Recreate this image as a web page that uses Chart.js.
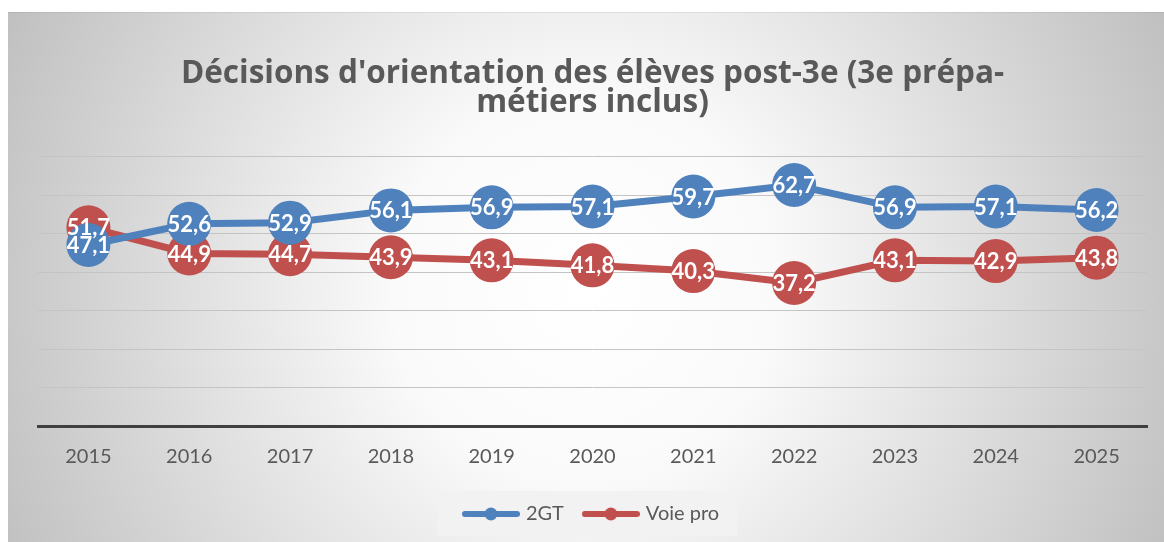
<!DOCTYPE html>
<html><head><meta charset="utf-8">
<script src="https://cdn.jsdelivr.net/npm/chart.js@4/dist/chart.umd.min.js"></script>
<style>html,body{margin:0;padding:0;background:#fff;}#wrap{width:1164px;height:542px;}</style>
</head><body><div id="wrap"><canvas id="c" width="1164" height="542"></canvas></div>
<script>
const years = ['2015','2016','2017','2018','2019','2020','2021','2022','2023','2024','2025'];
const seriesNames = ['2GT','Voie pro'];
const values2GT = [47.1,52.6,52.9,56.1,56.9,57.1,59.7,62.7,56.9,57.1,56.2];
const valuesPro = [51.7,44.9,44.7,43.9,43.1,41.8,40.3,37.2,43.1,42.9,43.8];
const titleLines = ["Décisions d'orientation des élèves post-3e (3e prépa-", "métiers inclus)"];
const BLUE = '#4f81bd', RED = '#c0504d';
const FONT = 'Lato, "Open Sans", sans-serif';
const TFONT = '"Open Sans", Lato, sans-serif';

function legendIcon(color){
  const c = document.createElement('canvas'); c.width = 58; c.height = 14;
  const x = c.getContext('2d');
  x.strokeStyle = color; x.lineWidth = 6; x.lineCap = 'round';
  x.beginPath(); x.moveTo(3,7); x.lineTo(55,7); x.stroke();
  x.fillStyle = color; x.beginPath(); x.arc(29,7,6.5,0,Math.PI*2); x.fill();
  return c;
}
const icons = [legendIcon(BLUE), legendIcon(RED)];

const bgPlugin = {
  id:'bg',
  beforeDraw(chart){
    const ctx = chart.ctx, W = chart.width, H = chart.height;
    ctx.save();
    ctx.fillStyle = '#ffffff'; ctx.fillRect(0,0,W,H);
    const g2 = ctx.createRadialGradient(585,290,0,585,290,640);
    g2.addColorStop(0,'#ffffff'); g2.addColorStop(0.3,'#fafafa'); g2.addColorStop(1,'#c0c0c0');
    ctx.fillStyle = g2; ctx.fillRect(8,12,W-8,H-12);
    ctx.fillStyle = 'rgba(0,0,0,0.06)'; ctx.fillRect(8,12,W-8,1);
    const lg = chart.legend;
    if (lg && lg.legendHitBoxes && lg.legendHitBoxes.length){
      const hb = lg.legendHitBoxes;
      const x0 = hb[0].left - 28, x1 = hb[hb.length-1].left + hb[hb.length-1].width + 18;
      const cy = hb[0].top + hb[0].height/2 - 1;
      ctx.fillStyle = '#f2f2f2';
      ctx.fillRect(x0, cy-22, x1-x0, 45);
    }
    ctx.restore();
  }
};

const labelPlugin = {
  id:'vals',
  afterDatasetsDraw(chart){
    const ctx = chart.ctx;
    ctx.save();
    ctx.font = 'bold 22px ' + FONT;
    ctx.fillStyle = '#ffffff'; ctx.textAlign = 'center'; ctx.textBaseline = 'middle';
    chart.data.datasets.forEach((ds, i) => {
      chart.getDatasetMeta(i).data.forEach((pt, j) => {
        ctx.fillText(String(ds.data[j]).replace('.', ','), pt.x, pt.y + 1);
      });
    });
    ctx.restore();
  }
};

new Chart(document.getElementById('c'), {
  type:'line',
  data:{
    labels: years,
    datasets:[
      {label: seriesNames[0], data: values2GT, borderColor: BLUE, backgroundColor: BLUE, borderWidth: 7,
       pointRadius: 22, pointHoverRadius: 22, pointBorderWidth: 0, tension: 0, clip: false},
      {label: seriesNames[1], data: valuesPro, borderColor: RED, backgroundColor: RED, borderWidth: 7,
       pointRadius: 22, pointHoverRadius: 22, pointBorderWidth: 0, tension: 0, clip: false}
    ]
  },
  options:{
    responsive:false, animation:false, devicePixelRatio:1,
    events: [],
    layout:{autoPadding:false, padding:{left:38, right:17, top:0, bottom:8}},
    plugins:{
      title:{display:true, text:titleLines, color:'#595959', font:{family:TFONT, size:31.5, weight:'bold', lineHeight:0.92}, padding:{top:59.5, bottom:39.5}},
      legend:{position:'bottom',
        labels:{usePointStyle:true, pointStyleWidth:50, padding:22, color:'#595959', font:{family:FONT, size:20},
          generateLabels(chart){
            return chart.data.datasets.map((ds,i)=>({text: ds.label, pointStyle: icons[i], fillStyle: ds.borderColor, strokeStyle: ds.borderColor, lineWidth:0, datasetIndex:i, fontColor:'#595959'}));
          }}},
      tooltip:{enabled:false}
    },
    scales:{
      x:{offset:true, grid:{display:false, drawTicks:false}, border:{display:true, color:'#404040', width:3},
         ticks:{color:'#595959', font:{family:FONT, size:20}, padding:19, maxRotation:0},
         afterFit(scale){ scale.height -= 6; scale.paddingLeft = 0; scale.paddingRight = 0; }},
      y:{min:0, max:70, grid:{color:'#c4c4c4', lineWidth:1, drawTicks:false}, border:{display:false},
         ticks:{display:false, stepSize:10}}
    }
  },
  plugins:[bgPlugin, labelPlugin]
});
</script></body></html>
